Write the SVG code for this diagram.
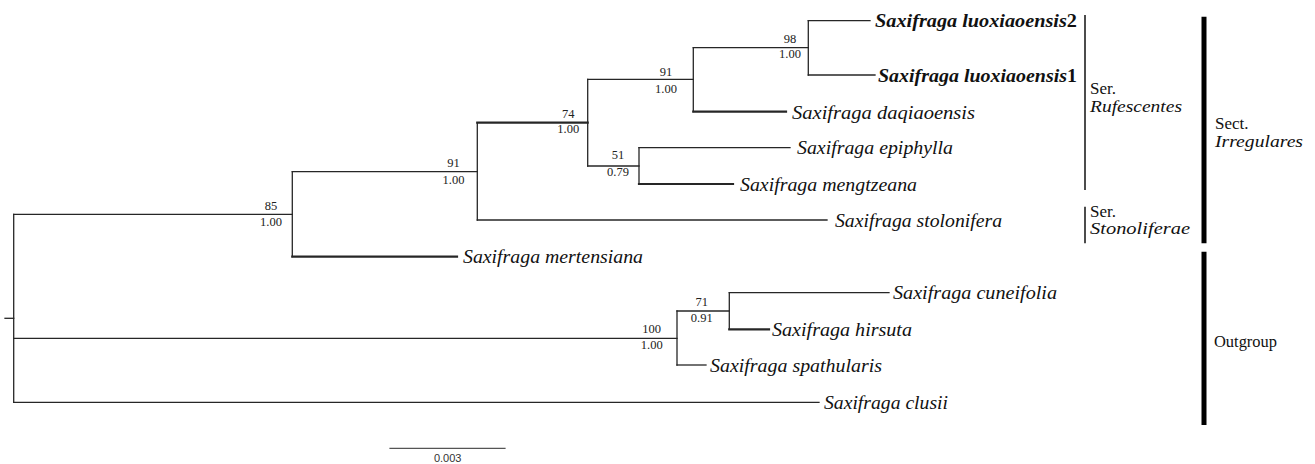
<svg xmlns="http://www.w3.org/2000/svg" width="1315" height="464" viewBox="0 0 1315 464">
<style>
.br{stroke:#262626;stroke-width:1.3;fill:none;stroke-linecap:square}
.tk{stroke-width:2.2}
.tx{font-family:"Liberation Serif","Times New Roman",serif;font-style:italic;font-size:18px;fill:#111}
.bd{font-weight:bold}
.up{font-style:normal}
.sp{font-family:"Liberation Serif","Times New Roman",serif;font-size:12.5px;fill:#222;text-anchor:middle}
.gl{font-family:"Liberation Serif","Times New Roman",serif;font-size:17px;fill:#111}
.it{font-style:italic}
.bar{stroke:#000;stroke-width:5;fill:none}
.thin{stroke:#111;stroke-width:1.5;fill:none}
.sc{font-family:"Liberation Sans",Arial,sans-serif;font-size:11px;fill:#333;text-anchor:middle}
</style>
<rect width="1315" height="464" fill="#fff"/>
<g id="connectors">
<line class="br" x1="5" y1="318.3" x2="13.7" y2="318.3"/>
<line class="br" x1="13.7" y1="214.3" x2="13.7" y2="402.3"/>
<line class="br" x1="13.7" y1="214.3" x2="292.3" y2="214.3"/>
<line class="br" x1="13.7" y1="338.3" x2="677" y2="338.3"/>
<line class="br" x1="13.7" y1="402.3" x2="819" y2="402.3"/>
<line class="br" x1="292.3" y1="171.7" x2="292.3" y2="256.7"/>
<line class="br" x1="292.3" y1="171.7" x2="477.3" y2="171.7"/>
<line class="br tk" x1="292.3" y1="256.7" x2="457" y2="256.7"/>
<line class="br" x1="477.3" y1="122.7" x2="477.3" y2="220"/>
<line class="br tk" x1="477.3" y1="122.7" x2="587.7" y2="122.7"/>
<line class="br" x1="477.3" y1="220" x2="827" y2="220"/>
<line class="br" x1="587.7" y1="79.3" x2="587.7" y2="166"/>
<line class="br" x1="587.7" y1="79.3" x2="693.3" y2="79.3"/>
<line class="br" x1="587.7" y1="166" x2="639" y2="166"/>
<line class="br" x1="693.3" y1="47.7" x2="693.3" y2="111.7"/>
<line class="br" x1="693.3" y1="47.7" x2="808.3" y2="47.7"/>
<line class="br tk" x1="693.3" y1="111.7" x2="786" y2="111.7"/>
<line class="br" x1="808.3" y1="20.7" x2="808.3" y2="75"/>
<line class="br" x1="808.3" y1="20.7" x2="870" y2="20.7"/>
<line class="br" x1="808.3" y1="75" x2="875" y2="75"/>
<line class="br" x1="639" y1="147.7" x2="639" y2="184"/>
<line class="br" x1="639" y1="147.7" x2="790" y2="147.7"/>
<line class="br tk" x1="639" y1="184" x2="733" y2="184"/>
<line class="br" x1="677" y1="311" x2="677" y2="365"/>
<line class="br" x1="677" y1="311" x2="729.3" y2="311"/>
<line class="br" x1="677" y1="365" x2="706" y2="365"/>
<line class="br" x1="729.3" y1="292.7" x2="729.3" y2="329.3"/>
<line class="br" x1="729.3" y1="292.7" x2="889" y2="292.7"/>
<line class="br tk" x1="729.3" y1="329.3" x2="769" y2="329.3"/>
</g>
<g id="n85"><text class="sp" x="271" y="210">85</text><text class="sp" x="271" y="225.7">1.00</text></g>
<g id="n91a"><text class="sp" x="453.5" y="166.7">91</text><text class="sp" x="453.5" y="184">1.00</text></g>
<g id="n74"><text class="sp" x="568.3" y="118.3">74</text><text class="sp" x="568.3" y="133.3">1.00</text></g>
<g id="n91b"><text class="sp" x="666" y="76">91</text><text class="sp" x="666" y="92.7">1.00</text></g>
<g id="n98"><text class="sp" x="790" y="43.3">98</text><text class="sp" x="790" y="58.3">1.00</text></g>
<g id="n51"><text class="sp" x="618" y="159.3">51</text><text class="sp" x="618" y="176">0.79</text></g>
<g id="n100"><text class="sp" x="651.7" y="332.7">100</text><text class="sp" x="651.7" y="349.3">1.00</text></g>
<g id="n71"><text class="sp" x="701.7" y="306">71</text><text class="sp" x="701.7" y="321.7">0.91</text></g>
<g id="t-luo2"><text class="tx bd" x="875" y="27" textLength="202" lengthAdjust="spacingAndGlyphs">Saxifraga luoxiaoensis<tspan class="up">2</tspan></text></g>
<g id="t-luo1"><text class="tx bd" x="878" y="81.5" textLength="199" lengthAdjust="spacingAndGlyphs">Saxifraga luoxiaoensis<tspan class="up">1</tspan></text></g>
<g id="t-daq"><text class="tx" x="792" y="118.5" textLength="183" lengthAdjust="spacingAndGlyphs">Saxifraga daqiaoensis</text></g>
<g id="t-epi"><text class="tx" x="797" y="154" textLength="156" lengthAdjust="spacingAndGlyphs">Saxifraga epiphylla</text></g>
<g id="t-men"><text class="tx" x="740" y="190.5" textLength="177" lengthAdjust="spacingAndGlyphs">Saxifraga mengtzeana</text></g>
<g id="t-sto"><text class="tx" x="835" y="226.5" textLength="167" lengthAdjust="spacingAndGlyphs">Saxifraga stolonifera</text></g>
<g id="t-mer"><text class="tx" x="463" y="263" textLength="180" lengthAdjust="spacingAndGlyphs">Saxifraga mertensiana</text></g>
<g id="t-cun"><text class="tx" x="893" y="299" textLength="164" lengthAdjust="spacingAndGlyphs">Saxifraga cuneifolia</text></g>
<g id="t-hir"><text class="tx" x="772" y="336" textLength="140" lengthAdjust="spacingAndGlyphs">Saxifraga hirsuta</text></g>
<g id="t-spa"><text class="tx" x="710" y="371.5" textLength="172" lengthAdjust="spacingAndGlyphs">Saxifraga spathularis</text></g>
<g id="t-clu"><text class="tx" x="824" y="408.5" textLength="124" lengthAdjust="spacingAndGlyphs">Saxifraga clusii</text></g>
<g id="g-rufescentes">
<line class="thin" x1="1085" y1="15" x2="1085" y2="190"/>
<text class="gl" x="1090" y="93.5">Ser.</text>
<text class="gl it" x="1090" y="112" textLength="92" lengthAdjust="spacingAndGlyphs">Rufescentes</text>
</g>
<g id="g-stoloniferae">
<line class="thin" x1="1085" y1="206.7" x2="1085" y2="243.3"/>
<text class="gl" x="1090" y="217">Ser.</text>
<text class="gl it" x="1090" y="234" textLength="100" lengthAdjust="spacingAndGlyphs">Stonoliferae</text>
</g>
<g id="g-irregulares">
<line class="bar" x1="1204" y1="16.7" x2="1204" y2="243.3"/>
<text class="gl" x="1215" y="128.5">Sect.</text>
<text class="gl it" x="1215" y="147" textLength="88" lengthAdjust="spacingAndGlyphs">Irregulares</text>
</g>
<g id="g-outgroup">
<line class="bar" x1="1204" y1="251.7" x2="1204" y2="425"/>
<text class="gl" x="1214" y="347" textLength="63" lengthAdjust="spacingAndGlyphs">Outgroup</text>
</g>
<g id="scalebar">
<line class="br" x1="390" y1="448.3" x2="505" y2="448.3" style="stroke:#555;stroke-width:1.2"/>
<text class="sc" x="447.7" y="461.5">0.003</text>
</g>
</svg>
